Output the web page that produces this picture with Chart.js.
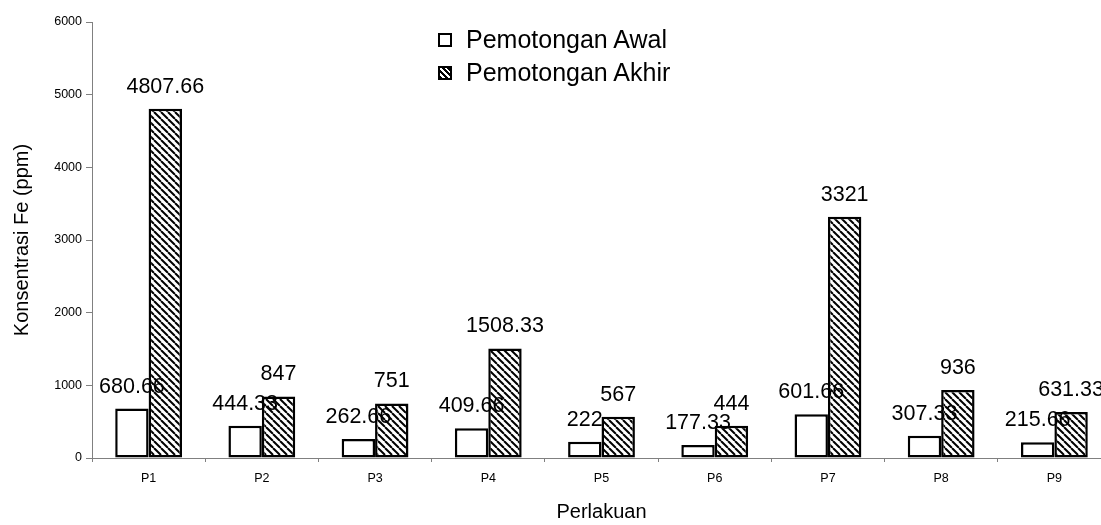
<!DOCTYPE html>
<html>
<head>
<meta charset="utf-8">
<script src="https://cdn.jsdelivr.net/npm/chart.js@4"></script>
<style>
    html, body { margin: 0; padding: 0; background: #fff; width: 1101px; height: 525px; overflow: hidden; }
    #wrap { position: relative; width: 1115px; height: 525px; }
    #legend { position: absolute; left: 438px; top: 23px; font-family: "Liberation Sans", Arial, sans-serif; font-size: 25px; color: #000; }
    .legendRow { display: flex; align-items: center; height: 33px; }
    .box { width: 10px; height: 10px; border: 2px solid #000; margin-right: 14px; background: #fff; }
    .box.hatch { background: repeating-linear-gradient(45deg, #000 0 2px, #fff 2px 4px); }
</style>
</head>
<body>
<div id="wrap">
    <canvas id="chart"></canvas>
    <div id="legend">
        <div class="legendRow"><div class="box"></div>Pemotongan Awal</div>
        <div class="legendRow"><div class="box hatch"></div>Pemotongan Akhir</div>
    </div>
</div>
<script>
// chart data
const categories = ["P1", "P2", "P3", "P4", "P5", "P6", "P7", "P8", "P9"];
const awal = [680.66, 444.33, 262.66, 409.66, 222, 177.33, 601.66, 307.33, 215.66];
const akhir = [4807.66, 847, 751, 1508.33, 567, 444, 3321, 936, 631.33];
const yTicks = [0, 1000, 2000, 3000, 4000, 5000, 6000];

const font = "'Liberation Sans', Arial, sans-serif";
const axisGray = "#808080";

// diagonal hatch pattern for the second series
function makeHatch() {
    const size = 7;
    const c = document.createElement("canvas");
    c.width = size;
    c.height = size;
    const g = c.getContext("2d");
    g.fillStyle = "#fff";
    g.fillRect(0, 0, size, size);
    g.strokeStyle = "#000";
    g.lineWidth = 2;
    for (const off of [-size, 0, size]) {
        g.beginPath();
        g.moveTo(off, 0);
        g.lineTo(off + size, size);
        g.stroke();
    }
    return g.createPattern(c, "repeat");
}

// draws the value above every bar
const valueLabels = {
    id: "valueLabels",
    afterDatasetsDraw(chart) {
        const ctx = chart.ctx;
        ctx.save();
        ctx.font = "21.5px " + font;
        ctx.fillStyle = "#000";
        ctx.textAlign = "center";
        ctx.textBaseline = "alphabetic";
        chart.data.datasets.forEach((ds, i) => {
            const meta = chart.getDatasetMeta(i);
            meta.data.forEach((bar, j) => {
                ctx.fillText(String(ds.data[j]), bar.x, bar.y - 16);
            });
        });
        ctx.restore();
    }
};

const ctx = document.getElementById("chart");

new Chart(ctx, {
    type: "bar",
    data: {
        labels: categories,
        datasets: [{
            label: "Pemotongan Awal",
            data: awal,
            backgroundColor: "#fff",
            borderColor: "#000",
            borderWidth: 2.5,
            borderSkipped: false
        }, {
            label: "Pemotongan Akhir",
            data: akhir,
            backgroundColor: makeHatch(),
            borderColor: "#000",
            borderWidth: 2.5,
            borderSkipped: false
        }]
    },
    options: {
        responsive: true,
        maintainAspectRatio: false,
        animation: false,
        layout: { padding: { top: 22, right: 4, left: 0, bottom: 0 } },
        datasets: { bar: { categoryPercentage: 0.59, barPercentage: 1 } },
        plugins: {
            legend: { display: false },
            tooltip: { enabled: false }
        },
        scales: {
            x: {
                afterFit: scale => { scale.height = 67; },
                border: { color: axisGray, width: 1 },
                grid: { drawOnChartArea: false, drawTicks: true, tickLength: 4, tickColor: axisGray, offset: true },
                ticks: { color: "#000", font: { family: font, size: 12.5 }, padding: 9 },
                title: { display: true, text: "Perlakuan", color: "#000", font: { family: font, size: 20 }, padding: { top: 0, bottom: 1 } }
            },
            y: {
                min: 0,
                max: 6000,
                afterFit: scale => { scale.width = 92; },
                afterBuildTicks: scale => { scale.ticks = yTicks.map(v => ({ value: v })); },
                border: { color: axisGray, width: 1 },
                grid: { drawOnChartArea: false, drawTicks: true, tickLength: 6, tickColor: axisGray },
                ticks: { color: "#000", font: { family: font, size: 12.5 }, padding: 4, callback: v => String(v) },
                title: { display: true, text: "Konsentrasi Fe (ppm)", color: "#000", font: { family: font, size: 20 }, padding: { top: 10, bottom: 0 } }
            }
        }
    },
    plugins: [valueLabels]
});
</script>
</body>
</html>
